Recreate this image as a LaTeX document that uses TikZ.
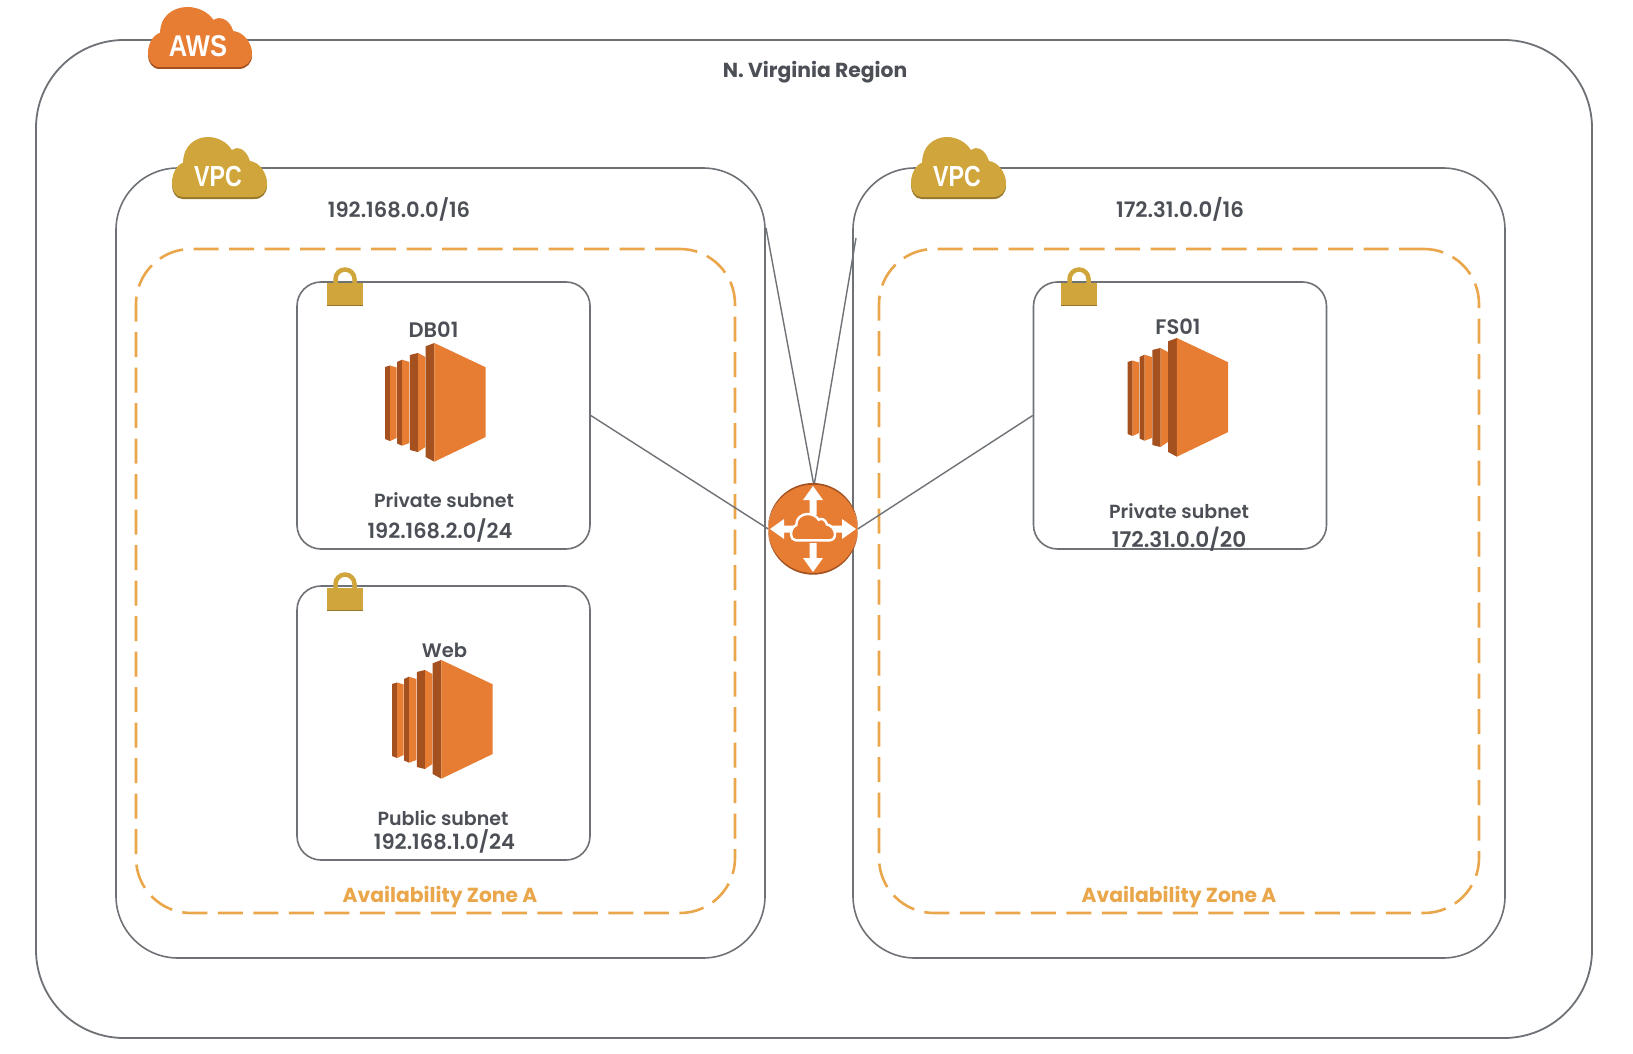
\documentclass[tikz,border=0pt]{standalone}
\usepackage{fontspec}
\setmainfont{Poppins SemiBold}[BoldFont={Poppins Bold}]
\newfontfamily\cloudfont{Liberation Sans Bold}
\usetikzlibrary{calc}
\definecolor{linegray}{HTML}{6E7276}
\definecolor{txtgray}{HTML}{4C5056}
\definecolor{awsorange}{HTML}{E77C33}
\definecolor{awsdark}{HTML}{A4501F}
\definecolor{gold}{HTML}{CFA53C}
\definecolor{golddark}{HTML}{97772B}
\definecolor{zonecol}{HTML}{EAA64A}
\tikzset{
  region/.style={draw=linegray,line width=1.6pt,fill=white,rounded corners=#1,inner sep=0pt},
  region/.default=60pt,
  zone/.style={draw=zonecol,line width=2.6pt,dash pattern=on 25pt off 10.5pt,rounded corners=55pt,inner sep=0pt},
  link/.style={draw=linegray,line width=1.4pt},
  lbl/.style={text=txtgray,font=\fontsize{#1}{#1}\selectfont,inner sep=0pt},
  lbl/.default=19pt,
  zonelbl/.style={text=zonecol,font=\fontsize{20.3pt}{20.3pt}\selectfont\bfseries,inner sep=0pt},
  cloudlbl/.style={text=white,inner sep=0pt}
}
\newcommand{\cloudpath}{(11,60) .. controls (4,60) and (0,53) .. (0,46.5) .. controls (0,36) and (5,28) .. (12,25.5) .. controls (11,10) and (24,0) .. (37.7,0) .. controls (48,0) and (58,5) .. (63,13) .. controls (68,9) and (78,11) .. (82,24) .. controls (92,25) and (100,36) .. (100,46.5) .. controls (100,54) and (95,60) .. (87,60) -- cycle}
\newcommand{\cloudshape}[6]{% x y xscale yscale main dark
  \begin{scope}[shift={(#1,#2)},xscale=#3,yscale=#4]
    \fill[#6] [shift={(0,2)}] \cloudpath;
    \fill[#5] \cloudpath;
  \end{scope}}
\newcommand{\lockshape}[2]{% center x, bottom y
  \begin{scope}[shift={(#1,#2)}]
    \draw[gold,line width=4.5pt] (-9.5,-20) -- (-9.5,-27) arc[start angle=180,end angle=0,x radius=9.5,y radius=-9.5] -- (9.5,-20);
    \fill[gold] (-18,-23) rectangle (18,-1);
    \fill[golddark] (-18,-1.2) rectangle (18,0);
  \end{scope}}
\newcommand{\ecshape}[2]{% left x, top y
  \begin{scope}[shift={(#1,#2)}]
    \fill[awsdark] (0,24) -- (5,22.5) -- (5,98) -- (0,96) -- cycle;
    \fill[awsorange] (5,22.5) -- (11.6,24.5) -- (11.6,95) -- (5,98) -- cycle;
    \fill[awsdark] (12,19) -- (17,16.7) -- (17,102.7) -- (12,100.5) -- cycle;
    \fill[awsorange] (17,16.7) -- (24.4,19) -- (24.4,100) -- (17,102.7) -- cycle;
    \fill[awsdark] (24.8,12) -- (33,10) -- (33,109) -- (24.8,107) -- cycle;
    \fill[awsorange] (33,10) -- (40.4,14) -- (40.4,104) -- (33,109) -- cycle;
    \fill[awsdark] (40.7,3.3) -- (49.3,0) -- (49.3,118.7) -- (40.7,114) -- cycle;
    \fill[awsorange] (49.3,0) -- (100.7,24.3) -- (100.7,94) -- (49.3,118.7) -- cycle;
  \end{scope}}
\begin{document}
\begin{tikzpicture}[x=1pt,y=-1pt]
\useasboundingbox (0,0) rectangle (1633,1054);
\fill[white] (0,0) rectangle (1633,1054);
% boxes
\node[region=88pt,minimum width=1556pt,minimum height=998pt,line width=1.8pt] (aws) at (814,539) {};
\node[region=62pt,minimum width=649pt,minimum height=790pt] (vpcl) at (440.5,563) {};
\node[region=62pt,minimum width=652pt,minimum height=790pt] (vpcr) at (1179,563) {};
\node[zone,minimum width=599pt,minimum height=664pt] (zonel) at (435.5,581) {};
\node[zone,minimum width=600pt,minimum height=664pt] (zoner) at (1179,581) {};
\node[region=24pt,minimum width=293pt,minimum height=267pt] (db) at (443.5,415.5) {};
\node[region=24pt,minimum width=293pt,minimum height=274pt] (web) at (443.5,723) {};
\node[region=24pt,minimum width=293pt,minimum height=267pt] (fs) at (1180,415.5) {};
% free ends and connectors
\coordinate (vlp) at (766,228);
\coordinate (vrp) at (856,238);
\coordinate (rtop) at (814,486);
\draw[link] (vlp) -- (rtop);
\draw[link] (vrp) -- (rtop);
\node[circle,fill=awsorange,minimum size=89pt,inner sep=0pt] (router) at (813,529) {};
\draw[link] (db.east) -- (router.west);
\draw[link] (fs.west) -- (router.east);
\fill[awsorange] (router) circle (44.5);
% router icon
\begin{scope}[shift={(813,529)}]
  \fill[awsdark,even odd rule] (0,0.7) circle (45) (0,-1) circle (45);
  \foreach \a in {0,90,180,270}{
    \fill[white,rotate=\a] (0,-43) -- (10,-29) -- (3.5,-29) -- (3.5,-14) -- (-3.5,-14) -- (-3.5,-29) -- (-10,-29) -- cycle;
  }
  \begin{scope}[shift={(-22,-15)},scale=.44]
    \draw[white,line width=2.4pt,fill=awsorange] \cloudpath;
  \end{scope}
\end{scope}
% clouds
\cloudshape{148}{7}{1.04}{1.0}{awsorange}{awsdark}
\node[cloudlbl,font=\fontsize{30pt}{30pt}\selectfont\cloudfont] (awslbl) at (198,46) {\scalebox{.85}[1]{AWS}};
\cloudshape{172}{137}{.95}{1.0}{gold}{golddark}
\node[cloudlbl,font=\fontsize{29pt}{29pt}\selectfont\cloudfont] (vpclbl) at (218,177) {\scalebox{.8}[1]{VPC}};
\cloudshape{911}{137}{.95}{1.0}{gold}{golddark}
\node[cloudlbl,font=\fontsize{29pt}{29pt}\selectfont\cloudfont] (vpcrlbl) at (957,177) {\scalebox{.8}[1]{VPC}};
% locks
\lockshape{345}{306}
\lockshape{345}{611}
\lockshape{1079}{306}
% instances
\ecshape{385}{343}
\ecshape{392}{660}
\ecshape{1127.5}{338}
% labels
\node[lbl=19pt,font=\bfseries\fontsize{20.3pt}{20.3pt}\selectfont] (t1) at (815,72) {N. Virginia Region};
\node[lbl=21pt] (t2) at (399,209) {192.168.0.0/16};
\node[lbl=21.3pt] (t3) at (1180,209) {172.31.0.0/16};
\node[lbl=21pt] (t4) at (433.5,330) {DB01};
\node[lbl] (t5) at (444,500) {Private subnet};
\node[lbl=20.9pt] (t6) at (440,530.5) {192.168.2.0/24};
\node[lbl=19.5pt] (t7) at (444.5,650) {Web};
\node[lbl] (t8) at (443,818) {Public subnet};
\node[lbl=21pt] (t9) at (444.5,841) {192.168.1.0/24};
\node[lbl=21pt] (t10) at (1178,327) {FS01};
\node[lbl] (t11) at (1179,511) {Private subnet};
\node[lbl=21.6pt] (t12) at (1179,539) {172.31.0.0/20};
\node[zonelbl] (t13) at (440,897) {Availability Zone A};
\node[zonelbl] (t14) at (1179,897) {Availability Zone A};
\end{tikzpicture}
\end{document}
